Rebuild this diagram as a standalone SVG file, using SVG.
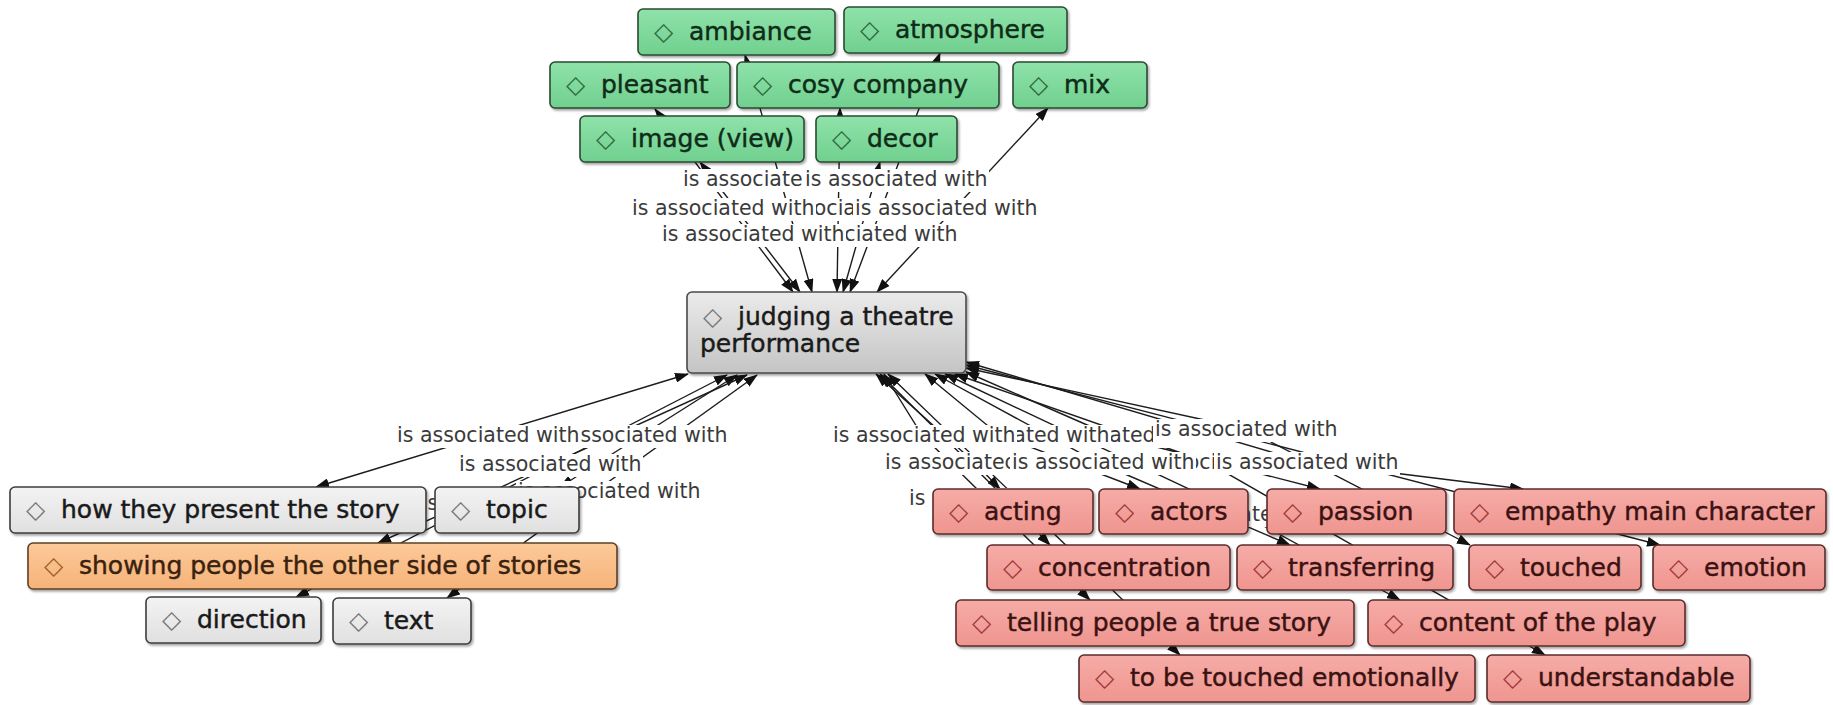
<svg xmlns="http://www.w3.org/2000/svg" width="1833" height="705" viewBox="0 0 1833 705">
<defs>
<style>
.n text{font-family:"DejaVu Sans","Liberation Sans",sans-serif;font-size:25px;stroke-width:0.45px}
.n rect{stroke-width:1.6;filter:url(#sh)}
.green rect{fill:url(#gG);stroke:#2a4a33}.green text{fill:#0f2c18;stroke:#0f2c18}.green .dm{fill:#2e6a40;stroke:none}
.red rect{fill:url(#gR);stroke:#5c2b2b}.red text{fill:#3b1212;stroke:#3b1212}.red .dm{fill:#a03a3a;stroke:none}
.gray rect{fill:url(#gY);stroke:#3d3d3d}.gray text{fill:#1a1a1a;stroke:#1a1a1a}.gray .dm{fill:#777;stroke:none}
.orange rect{fill:url(#gO);stroke:#5e4025}.orange text{fill:#3a2210;stroke:#3a2210}.orange .dm{fill:#a0602a;stroke:none}
.center rect{fill:url(#gC);stroke:#4a4a4a}
.lb text{font-family:"DejaVu Sans","Liberation Sans",sans-serif;font-size:20.5px;fill:#3a3a3a}
.lb rect{fill:#fff}
#connectors path{fill:none;stroke:#1c1c1c;stroke-width:1.4;marker-start:url(#ar);marker-end:url(#ar)}
</style>
<marker id="ar" viewBox="0 0 14 10" refX="13" refY="5" markerWidth="14" markerHeight="10" markerUnits="userSpaceOnUse" orient="auto-start-reverse"><path d="M0,0 L14,5 L0,10 z" fill="#111"/></marker>
<linearGradient id="gG" x1="0" y1="0" x2="0" y2="1"><stop offset="0" stop-color="#8fe2aa"/><stop offset="1" stop-color="#70d08f"/></linearGradient>
<linearGradient id="gR" x1="0" y1="0" x2="0" y2="1"><stop offset="0" stop-color="#f6aca7"/><stop offset="1" stop-color="#ef958f"/></linearGradient>
<linearGradient id="gY" x1="0" y1="0" x2="0" y2="1"><stop offset="0" stop-color="#f3f3f3"/><stop offset="1" stop-color="#e0e0e0"/></linearGradient>
<linearGradient id="gO" x1="0" y1="0" x2="0" y2="1"><stop offset="0" stop-color="#fcca98"/><stop offset="1" stop-color="#f6b37a"/></linearGradient>
<linearGradient id="gC" x1="0" y1="0" x2="0" y2="1"><stop offset="0" stop-color="#ebebeb"/><stop offset="1" stop-color="#c4c4c4"/></linearGradient>
<filter id="sh" x="-5%" y="-20%" width="110%" height="150%"><feDropShadow dx="1.5" dy="2" stdDeviation="1.2" flood-opacity="0.35"/></filter>
</defs>
<rect width="1833" height="705" fill="#fff"/>

<g id="connectors">
<path d="M655,109 L793,292"/>
<path d="M700,162 L800,292"/>
<path d="M745,55 L812,292"/>
<path d="M840,108 L837,292"/>
<path d="M880,162 L843,292"/>
<path d="M940,53 L850,292"/>
<path d="M1048,108 L877,292"/>
<path d="M316,487 L688,374"/>
<path d="M560,487 L737,375"/>
<path d="M378,543 L747,375"/>
<path d="M447,598 L757,375"/>
<path d="M296,597 L727,375"/>
<path d="M876,374 L974,462 L1000,489"/>
<path d="M880,374 L998,491 L1050,545"/>
<path d="M884,374 L922,435 L1090,600"/>
<path d="M888,374 L1180,655"/>
<path d="M925,374 L999,435 L1140,489"/>
<path d="M935,374 L1097,462 L1290,545"/>
<path d="M945,374 L1242,514 L1400,600"/>
<path d="M955,374 L1207,462 L1545,655"/>
<path d="M966,372 L1110,435 L1320,489"/>
<path d="M966,368 L1246,429 L1470,545"/>
<path d="M966,365 L1660,545"/>
<path d="M966,362 L1305,462 L1523,489"/>
</g>

<g id="link-labels" class="lb">
<g><rect x="681" y="169" width="186" height="23"/><text x="683" y="186">is associated with</text></g>
<g><rect x="803" y="169" width="186" height="23"/><text x="805" y="186">is associated with</text></g>
<g><rect x="755" y="198" width="186" height="23"/><text x="757" y="215">is associated with</text></g>
<g><rect x="630" y="198" width="186" height="23"/><text x="632" y="215">is associated with</text></g>
<g><rect x="853" y="198" width="186" height="23"/><text x="855" y="215">is associated with</text></g>
<g><rect x="773" y="224" width="186" height="23"/><text x="775" y="241">is associated with</text></g>
<g><rect x="660" y="224" width="186" height="23"/><text x="662" y="241">is associated with</text></g>
<g><rect x="390" y="493" width="186" height="23"/><text x="392" y="510">is associated with</text></g>
<g><rect x="543" y="425" width="186" height="23"/><text x="545" y="442">is associated with</text></g>
<g><rect x="395" y="425" width="186" height="23"/><text x="397" y="442">is associated with</text></g>
<g><rect x="457" y="454" width="186" height="23"/><text x="459" y="471">is associated with</text></g>
<g><rect x="516" y="481" width="186" height="23"/><text x="518" y="498">is associated with</text></g>
<g><rect x="1021" y="425" width="186" height="23"/><text x="1023" y="442">is associated with</text></g>
<g><rect x="925" y="425" width="186" height="23"/><text x="927" y="442">is associated with</text></g>
<g><rect x="831" y="425" width="186" height="23"/><text x="833" y="442">is associated with</text></g>
<g><rect x="1153" y="419" width="186" height="23"/><text x="1155" y="436">is associated with</text></g>
<g><rect x="883" y="452" width="186" height="23"/><text x="885" y="469">is associated with</text></g>
<g><rect x="1128" y="452" width="186" height="23"/><text x="1130" y="469">is associated with</text></g>
<g><rect x="1010" y="452" width="186" height="23"/><text x="1012" y="469">is associated with</text></g>
<g><rect x="1214" y="452" width="186" height="23"/><text x="1216" y="469">is associated with</text></g>
<g><rect x="907" y="488" width="186" height="23"/><text x="909" y="505">is associated with</text></g>
<g><rect x="1151" y="504" width="186" height="23"/><text x="1153" y="521">is associated with</text></g>
</g>

<g id="n-ambiance" class="n green"><rect x="638" y="9" width="197" height="46" rx="5"/><text y="40"><tspan class="dm" x="654">◇</tspan><tspan x="689">ambiance</tspan></text></g>
<g id="n-atmosphere" class="n green"><rect x="844" y="7" width="223" height="46" rx="5"/><text y="38"><tspan class="dm" x="860">◇</tspan><tspan x="895">atmosphere</tspan></text></g>
<g id="n-pleasant" class="n green"><rect x="550" y="62" width="180" height="46" rx="5"/><text y="93"><tspan class="dm" x="566">◇</tspan><tspan x="601">pleasant</tspan></text></g>
<g id="n-cosy-company" class="n green"><rect x="737" y="62" width="262" height="46" rx="5"/><text y="93"><tspan class="dm" x="753">◇</tspan><tspan x="788">cosy company</tspan></text></g>
<g id="n-mix" class="n green"><rect x="1013" y="62" width="134" height="46" rx="5"/><text y="93"><tspan class="dm" x="1029">◇</tspan><tspan x="1064">mix</tspan></text></g>
<g id="n-image-view" class="n green"><rect x="580" y="116" width="224" height="46" rx="5"/><text y="147"><tspan class="dm" x="596">◇</tspan><tspan x="631">image (view)</tspan></text></g>
<g id="n-decor" class="n green"><rect x="816" y="116" width="141" height="46" rx="5"/><text y="147"><tspan class="dm" x="832">◇</tspan><tspan x="867">decor</tspan></text></g>

<g id="n-judging" class="n center gray"><rect x="687" y="292" width="279" height="81" rx="5"/><text y="325"><tspan class="dm" x="703">◇</tspan><tspan x="738">judging a theatre</tspan><tspan x="700" y="352">performance</tspan></text></g>

<g id="n-how" class="n gray"><rect x="10" y="487" width="416" height="46" rx="5"/><text y="518"><tspan class="dm" x="26">◇</tspan><tspan x="61">how they present the story</tspan></text></g>
<g id="n-topic" class="n gray"><rect x="435" y="487" width="144" height="46" rx="5"/><text y="518"><tspan class="dm" x="451">◇</tspan><tspan x="486">topic</tspan></text></g>
<g id="n-showing" class="n orange"><rect x="28" y="543" width="589" height="46" rx="5"/><text y="574"><tspan class="dm" x="44">◇</tspan><tspan x="79">showing people the other side of stories</tspan></text></g>
<g id="n-direction" class="n gray"><rect x="146" y="597" width="175" height="46" rx="5"/><text y="628"><tspan class="dm" x="162">◇</tspan><tspan x="197">direction</tspan></text></g>
<g id="n-text" class="n gray"><rect x="333" y="598" width="138" height="46" rx="5"/><text y="629"><tspan class="dm" x="349">◇</tspan><tspan x="384">text</tspan></text></g>

<g id="n-acting" class="n red"><rect x="933" y="489" width="160" height="45" rx="5"/><text y="520"><tspan class="dm" x="949">◇</tspan><tspan x="984">acting</tspan></text></g>
<g id="n-actors" class="n red"><rect x="1099" y="489" width="149" height="45" rx="5"/><text y="520"><tspan class="dm" x="1115">◇</tspan><tspan x="1150">actors</tspan></text></g>
<g id="n-passion" class="n red"><rect x="1267" y="489" width="179" height="45" rx="5"/><text y="520"><tspan class="dm" x="1283">◇</tspan><tspan x="1318">passion</tspan></text></g>
<g id="n-empathy" class="n red"><rect x="1454" y="489" width="372" height="45" rx="5"/><text y="520"><tspan class="dm" x="1470">◇</tspan><tspan x="1505">empathy main character</tspan></text></g>
<g id="n-concentration" class="n red"><rect x="987" y="545" width="243" height="45" rx="5"/><text y="576"><tspan class="dm" x="1003">◇</tspan><tspan x="1038">concentration</tspan></text></g>
<g id="n-transferring" class="n red"><rect x="1237" y="545" width="216" height="45" rx="5"/><text y="576"><tspan class="dm" x="1253">◇</tspan><tspan x="1288">transferring</tspan></text></g>
<g id="n-touched" class="n red"><rect x="1469" y="545" width="172" height="45" rx="5"/><text y="576"><tspan class="dm" x="1485">◇</tspan><tspan x="1520">touched</tspan></text></g>
<g id="n-emotion" class="n red"><rect x="1653" y="545" width="172" height="45" rx="5"/><text y="576"><tspan class="dm" x="1669">◇</tspan><tspan x="1704">emotion</tspan></text></g>
<g id="n-telling" class="n red"><rect x="956" y="600" width="398" height="46" rx="5"/><text y="631"><tspan class="dm" x="972">◇</tspan><tspan x="1007">telling people a true story</tspan></text></g>
<g id="n-content" class="n red"><rect x="1368" y="600" width="317" height="46" rx="5"/><text y="631"><tspan class="dm" x="1384">◇</tspan><tspan x="1419">content of the play</tspan></text></g>
<g id="n-to-be-touched" class="n red"><rect x="1079" y="655" width="396" height="47" rx="5"/><text y="686"><tspan class="dm" x="1095">◇</tspan><tspan x="1130">to be touched emotionally</tspan></text></g>
<g id="n-understandable" class="n red"><rect x="1487" y="655" width="263" height="47" rx="5"/><text y="686"><tspan class="dm" x="1503">◇</tspan><tspan x="1538">understandable</tspan></text></g>
</svg>
